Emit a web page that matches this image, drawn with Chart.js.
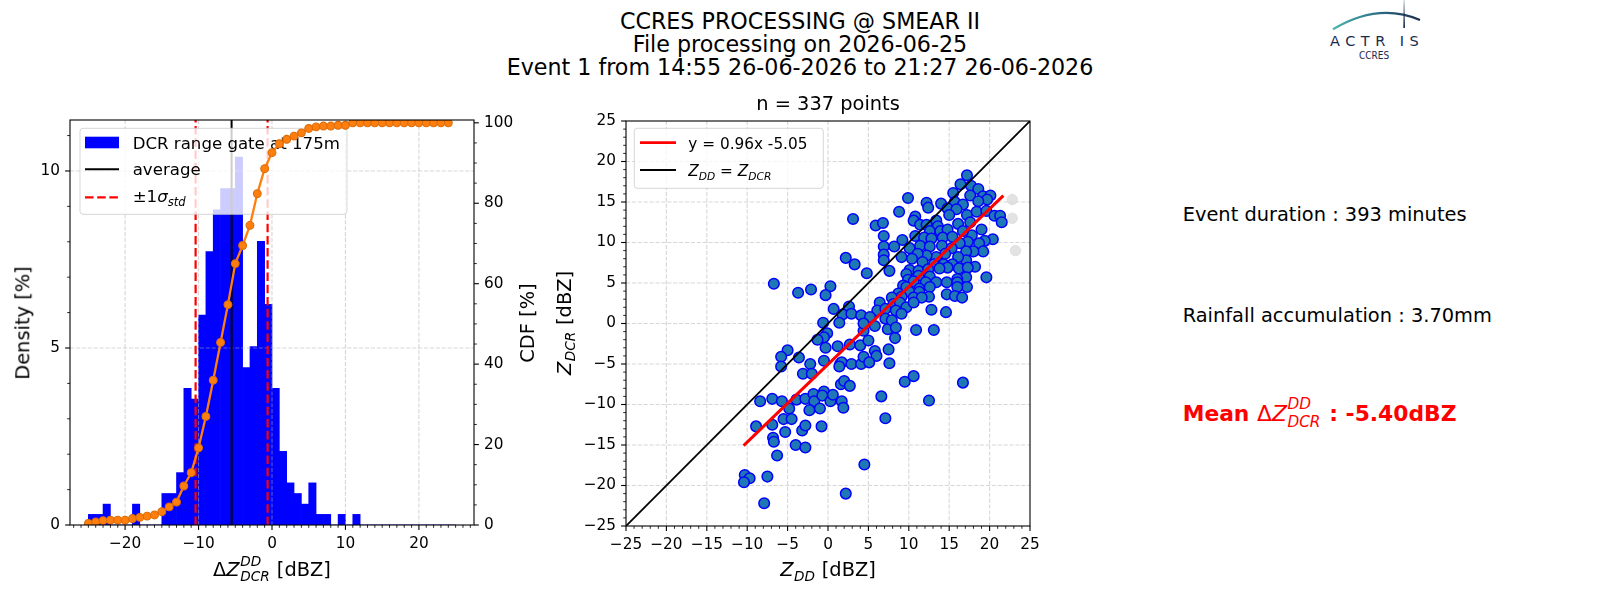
<!DOCTYPE html>
<html><head><meta charset="utf-8"><title>CCRES processing</title>
<script src="https://cdn.jsdelivr.net/npm/chart.js@4.4.1/dist/chart.umd.min.js"></script>
<style>
html,body{margin:0;padding:0;background:#fff;}
#root{position:relative;width:1600px;height:600px;overflow:hidden;font-family:"DejaVu Sans",sans-serif;color:#000;background:#fff;}
#root canvas{position:absolute;}
.t{position:absolute;white-space:nowrap;line-height:1;}
.i{font-style:italic;}
.stk{position:relative;display:inline-block;height:0;}
.stk>span{position:absolute;left:0.04em;font-size:0.7em;font-style:italic;font-weight:normal;line-height:1;white-space:nowrap;}
.stk .up{bottom:0.58em;}
.stk .dn{bottom:-0.57em;}
.stk .dn1{bottom:-0.51em;}
</style></head>
<body><div id="root">
<canvas id="hist" width="560" height="510" style="left:0;top:90px"></canvas>
<canvas id="scat" width="560" height="510" style="left:540px;top:90px"></canvas>
<svg style="position:absolute;left:1320px;top:0" width="110" height="40">
  <defs>
    <linearGradient id="lg" x1="0" x2="1" y1="0" y2="0"><stop offset="0" stop-color="#4bb6ab"/><stop offset="0.5" stop-color="#2b7188"/><stop offset="1" stop-color="#1b2a4e"/></linearGradient>
    <linearGradient id="lv" x1="0" x2="0" y1="0" y2="1"><stop offset="0" stop-color="#1b2a4e" stop-opacity="0.15"/><stop offset="1" stop-color="#1b2a4e"/></linearGradient>
  </defs>
  <path d="M13,29.3 C35,16 65,5 100,20" stroke="url(#lg)" stroke-width="2.2" fill="none"/>
  <rect x="83.3" y="0" width="1.7" height="28" fill="url(#lv)"/>
</svg>
<div class="t" style="left:1330px;top:34px;font-size:14.5px;color:#1b2a4e;letter-spacing:5.5px;">ACTR<span style="margin-left:9px">I</span>S</div>
<div class="t" style="left:1359px;top:51px;font-size:10px;color:#1b2a4e;font-family:'DejaVu Sans Condensed','DejaVu Sans',sans-serif;">CCRES</div>
</div>
<script>
// ---------------- data ----------------
const TITLE_LINES = ["CCRES PROCESSING @ SMEAR II", "File processing on 2026-06-25", "Event 1 from 14:55 26-06-2026 to 21:27 26-06-2026"];
const SCATTER_TITLE = "n = 337 points";
const INFO_LINES = ["Event duration : 393 minutes", "Rainfall accumulation : 3.70mm"];
const MEAN_TEXT = ["Mean ", " : -5.40dBZ"];

// histogram of Delta Z (1 dBZ bins, -25 .. 25)
const BIN_CENTERS = [-24.5,-23.5,-22.5,-21.5,-20.5,-19.5,-18.5,-17.5,-16.5,-15.5,
  -14.5,-13.5,-12.5,-11.5,-10.5,-9.5,-8.5,-7.5,-6.5,-5.5,
  -4.5,-3.5,-2.5,-1.5,-0.5,0.5,1.5,2.5,3.5,4.5,
  5.5,6.5,7.5,8.5,9.5,10.5,11.5,12.5,13.5,14.5,
  15.5,16.5,17.5,18.5,19.5,20.5,21.5,22.5,23.5,24.5];
const DENSITY_PCT = [0.30,0.30,0.59,0,0,0,0.59,0,0,0,
  0.89,0.89,1.48,3.86,3.56,5.93,7.72,8.90,9.50,9.50,
  10.39,4.45,5.04,8.01,6.23,3.86,2.08,1.19,0.89,0.59,
  1.19,0.30,0.30,0,0.30,0,0.30,0,0,0,
  0,0,0,0,0,0,0,0,0,0];
const CDF_X = [-25,-24,-23,-22,-21,-20,-19,-18,-17,-16,
  -15,-14,-13,-12,-11,-10,-9,-8,-7,-6,
  -5,-4,-3,-2,-1,0,1,2,3,4,
  5,6,7,8,9,10,11,12,13,14,
  15,16,17,18,19,20,21,22,23,24];
const CDF_PCT = [0.4,0.75,1.1,1.2,1.2,1.2,1.6,1.9,2.2,2.5,
  3.3,4.5,5.7,9.7,13.0,19.2,27.0,36.0,45.4,54.8,
  65.0,69.5,74.5,82.4,88.6,92.6,94.8,95.9,96.7,97.5,
  98.6,99.0,99.2,99.2,99.4,99.4,100,100,100,100,
  100,100,100,100,100,100,100,100,100,100];
const AVERAGE_DBZ = -5.5;
const SIGMA_LOW_DBZ = -10.4;
const SIGMA_HIGH_DBZ = -0.6;
const HIST_X_RANGE = [-27.5, 27.5];
const DENSITY_RANGE = [0, 11.44];
const CDF_RANGE = [0, 100.7];

// scatter Z_DD vs Z_DCR
const Z_DD = [3.1,2.2,3.3,4.8,-6.7,-3.7,-2.1,0.3,-0.3,0.7,
  2.6,1.8,2.9,4.1,-0.6,1.4,-0.1,4.4,-0.5,-1.3,
  -0.3,1.2,2.7,4.0,-5.0,-5.8,-5.8,-3.6,-2.2,-0.5,
  -3.1,-2.0,1.5,1.7,2.9,4.1,4.4,1.4,1.6,2.0,
  2.7,-8.4,-6.9,-5.7,-4.8,-3.9,-2.8,-1.8,-1.7,-2.3,
  -1.0,-0.5,-0.7,0.3,0.6,1.7,1.9,-5.5,-4.5,-8.9,
  -6.9,-5.3,-3.2,-2.8,-0.8,-6.8,-6.7,-4.0,-2.8,-6.3,
  -10.3,-9.7,-10.4,-7.5,-7.9,2.2,4.5,7.4,10.9,13.1,
  8.3,5.0,5.8,6.0,5.1,7.5,7.6,9.5,10.6,16.7,
  6.6,12.5,7.1,17.2,16.4,17.7,18.6,15.5,9.9,12.2,
  12.4,14.0,15.7,17.6,19.2,20.1,19.7,18.6,16.7,14.8,
  15.9,8.8,10.8,10.6,13.4,15.0,17.2,18.4,19.6,20.6,
  21.3,21.5,5.9,6.8,11.4,12.2,13.6,12.6,13.9,14.8,
  16.1,17.6,19.0,17.8,16.7,6.9,10.8,11.9,12.8,14.2,
  15.4,9.2,20.4,19.4,18.7,17.3,16.3,6.9,8.2,10.1,
  11.4,12.6,14.1,15.3,6.9,19.2,18.0,17.1,17.1,18.2,
  16.1,14.5,13.4,12.2,11.1,9.1,10.4,6.9,11.7,13.1,
  14.3,15.4,14.8,7.6,10.1,11.2,12.4,13.8,16.2,17.3,
  9.7,11.2,12.6,17.1,16.0,19.6,9.9,10.6,12.1,13.4,
  14.7,16.0,17.2,9.3,9.7,11.3,12.6,16.0,8.7,10.1,
  11.3,12.5,14.7,15.7,16.6,9.1,7.9,10.6,11.6,6.4,
  8.1,8.9,9.7,10.6,6.1,7.1,8.4,9.1,12.8,14.6,
  5.2,7.1,7.9,4.4,5.8,8.4];
const Z_DCR = [12.9,8.1,7.3,6.2,4.9,3.8,4.2,4.6,3.5,1.8,
  2.1,1.1,1.2,1.0,0.1,0.1,-1.2,-0.9,-1.7,-2.0,
  -3.0,-2.8,-2.6,-2.7,-3.3,-4.1,-5.3,-4.2,-5.0,-4.6,
  -6.2,-6.2,-5.0,-4.8,-5.0,-5.0,-4.1,-5.3,-7.5,-7.1,
  -7.7,-9.6,-9.3,-9.6,-10.5,-9.4,-9.3,-8.7,-9.6,-10.7,
  -10.5,-8.4,-8.9,-9.6,-8.8,-9.6,-10.4,-11.8,-11.8,-12.7,
  -12.5,-13.4,-13.2,-12.6,-12.7,-14.1,-14.6,-15.0,-15.3,-16.3,
  -18.7,-19.1,-19.6,-18.9,-22.2,-21.0,-17.4,-0.7,-0.8,-0.8,
  -1.8,-2.1,-3.4,-4.0,-4.8,-3.2,-4.9,-7.2,-6.5,-7.3,
  -9.0,-9.5,-11.7,18.3,17.2,17.0,16.6,16.1,15.5,14.9,
  14.3,14.8,15.0,15.8,15.7,15.8,15.3,15.1,14.7,14.2,
  14.1,13.8,13.2,12.7,12.7,13.4,13.4,13.8,13.9,13.3,
  13.3,12.5,12.1,12.4,12.2,12.2,12.0,11.4,11.4,11.6,
  12.3,12.5,11.6,10.9,11.4,10.8,10.8,10.6,10.5,10.6,
  10.7,10.3,10.4,10.2,9.9,10.1,9.9,9.5,9.5,9.3,
  9.6,9.5,9.6,9.3,8.5,8.9,8.9,8.9,7.8,7.0,
  8.2,8.6,8.2,8.4,8.6,8.2,8.0,7.8,7.6,7.3,
  7.3,7.3,6.9,6.5,6.6,6.5,6.7,6.8,6.8,6.9,
  6.1,5.9,5.8,5.7,5.5,5.7,5.4,5.2,5.1,5.1,
  5.1,5.1,4.5,4.7,4.5,4.3,4.5,4.5,3.7,3.9,
  3.9,3.3,3.6,3.4,3.2,3.3,3.2,3.2,3.2,2.6,
  2.4,2.6,2.0,2.6,1.6,1.8,1.6,1.2,1.7,1.4,
  0.8,0.6,0.4,0.0,-0.3,-0.5];
const FADED_DD = [22.8, 22.8, 23.2];
const FADED_DCR = [15.3, 13.0, 9.0];
const FIT_X = [-10.45, 21.7];
const FIT_Y = [-15.08, 15.78];
const ONE_TO_ONE = [-25, 25];
const SCAT_RANGE = [-25, 25];
const FIT_LABEL = "y = 0.96x -5.05";

// ---------------- helpers ----------------
const FONT = '"DejaVu Sans"';
Chart.defaults.font.family = 'DejaVu Sans';
Chart.defaults.color = '#000';
const GRID_COLOR = 'rgba(176,176,176,0.5)';
const minus = v => (v < 0 ? '\u2212' : '') + Math.abs(v);

function gridLines(chart, xs, ys, xVals, yVals) {
  const {ctx, chartArea: a} = chart;
  ctx.save();
  ctx.beginPath(); ctx.rect(a.left, a.top, a.right - a.left, a.bottom - a.top); ctx.clip();
  ctx.strokeStyle = GRID_COLOR; ctx.lineWidth = 1.1; ctx.setLineDash([4.1, 1.8]);
  xVals.forEach(v => { const p = xs.getPixelForValue(v); ctx.beginPath(); ctx.moveTo(p, a.top); ctx.lineTo(p, a.bottom); ctx.stroke(); });
  yVals.forEach(v => { const p = ys.getPixelForValue(v); ctx.beginPath(); ctx.moveTo(a.left, p); ctx.lineTo(a.right, p); ctx.stroke(); });
  ctx.restore();
}
function tickMarks(chart, scale, side, minorStep, majorStep) {
  const {ctx, chartArea: a} = chart;
  ctx.save(); ctx.strokeStyle = '#000';
  const s = Math.ceil(scale.min / minorStep - 1e-9), e = Math.floor(scale.max / minorStep + 1e-9);
  for (let k = s; k <= e; k++) {
    const v = k * minorStep;
    const major = Math.abs(v / majorStep - Math.round(v / majorStep)) < 1e-6;
    const len = major ? 4.9 : 2.8;
    ctx.lineWidth = major ? 1.1 : 0.85;
    const p = scale.getPixelForValue(v);
    ctx.beginPath();
    if (side === 'bottom') { ctx.moveTo(p, a.bottom); ctx.lineTo(p, a.bottom + len); }
    else if (side === 'left') { ctx.moveTo(a.left, p); ctx.lineTo(a.left - len, p); }
    else { ctx.moveTo(a.right, p); ctx.lineTo(a.right + len, p); }
    ctx.stroke();
  }
  ctx.restore();
}
function frame(chart) {
  const {ctx, chartArea: a} = chart;
  ctx.save(); ctx.strokeStyle = '#000'; ctx.lineWidth = 1.1;
  ctx.strokeRect(a.left, a.top, a.right - a.left, a.bottom - a.top); ctx.restore();
}
function legendBox(ctx, x0, y0, x1, y1) {
  ctx.save();
  ctx.beginPath();
  if (ctx.roundRect) ctx.roundRect(x0, y0, x1 - x0, y1 - y0, 3); else ctx.rect(x0, y0, x1 - x0, y1 - y0);
  ctx.fillStyle = 'rgba(255,255,255,0.8)'; ctx.fill();
  ctx.strokeStyle = 'rgba(204,204,204,0.8)'; ctx.lineWidth = 1; ctx.stroke();
  ctx.restore();
}
function rich(ctx, x, y, F, segs, color) {
  ctx.save(); ctx.fillStyle = color || '#000'; ctx.textBaseline = 'alphabetic'; ctx.textAlign = 'left';
  let cx = x;
  for (const s of segs) {
    const size = F * (s.sc || 1);
    ctx.font = (s.it ? 'italic ' : '') + size + 'px ' + FONT;
    ctx.fillText(s.t, cx, y + (s.dy || 0) * F);
    cx += ctx.measureText(s.t).width;
  }
  ctx.restore();
}
function hLine(ctx, x0, x1, y, color, w, dash) {
  ctx.save(); ctx.strokeStyle = color; ctx.lineWidth = w; ctx.setLineDash(dash || []);
  ctx.beginPath(); ctx.moveTo(x0, y); ctx.lineTo(x1, y); ctx.stroke(); ctx.restore();
}

// ---------------- histogram chart ----------------
const histDeco = {
  id: 'histDeco',
  afterDatasetDraw(chart, args) {
    if (args.index === 0) gridLines(chart, chart.scales.x, chart.scales.y, [-20, -10, 0, 10, 20], [5, 10]);
  },
  beforeDatasetDraw(chart, args) {
    if (args.index !== 4) return;
    const ctx = chart.ctx;
    legendBox(ctx, 80, 38.3, 347, 124.3);
    ctx.save(); ctx.fillStyle = '#0000ff'; ctx.fillRect(85, 46.7, 34, 11.6); ctx.restore();
    rich(ctx, 132.7, 59.3, 16.6, [{t: 'DCR range gate at 175m'}]);
    hLine(ctx, 85, 119, 79.3, '#000', 2);
    rich(ctx, 132.7, 85, 16.6, [{t: 'average'}]);
    hLine(ctx, 85, 119, 107.3, '#ff0000', 2.2, [8.5, 3.7]);
    rich(ctx, 132.7, 112, 16.6, [{t: '\u00b11'}, {t: '\u03c3', it: 1}, {t: 'std', it: 1, sc: 0.7, dy: 0.25}]);
  },
  afterDraw(chart) {
    frame(chart);
    tickMarks(chart, chart.scales.x, 'bottom', 1, 10);
    tickMarks(chart, chart.scales.y, 'left', 1, 5);
    tickMarks(chart, chart.scales.y2, 'right', 5, 20);
  }
};
const tickFont = {family: 'DejaVu Sans', size: 15.3};
new Chart(document.getElementById('hist'), {
  type: 'bar',
  data: {
    datasets: [
      {type: 'bar', data: BIN_CENTERS.map((x, i) => ({x, y: DENSITY_PCT[i]})), backgroundColor: '#0000ff',
       borderWidth: 0, barPercentage: 1, categoryPercentage: 1, xAxisID: 'x', yAxisID: 'y', order: 10},
      {type: 'line', data: [{x: AVERAGE_DBZ, y: DENSITY_RANGE[0]}, {x: AVERAGE_DBZ, y: DENSITY_RANGE[1]}], borderColor: '#000',
       borderWidth: 2, pointRadius: 0, xAxisID: 'x', yAxisID: 'y', order: 6},
      {type: 'line', data: [{x: SIGMA_LOW_DBZ, y: DENSITY_RANGE[0]}, {x: SIGMA_LOW_DBZ, y: DENSITY_RANGE[1]}], borderColor: '#ff0000',
       borderWidth: 2.2, borderDash: [8.5, 3.7], pointRadius: 0, xAxisID: 'x', yAxisID: 'y', order: 5},
      {type: 'line', data: [{x: SIGMA_HIGH_DBZ, y: DENSITY_RANGE[0]}, {x: SIGMA_HIGH_DBZ, y: DENSITY_RANGE[1]}], borderColor: '#ff0000',
       borderWidth: 2.2, borderDash: [8.5, 3.7], pointRadius: 0, xAxisID: 'x', yAxisID: 'y', order: 4},
      {type: 'line', data: CDF_X.map((x, i) => ({x, y: CDF_PCT[i]})), borderColor: '#ff7f0e', borderWidth: 2.3,
       pointRadius: 3.9, pointBackgroundColor: '#ff7f0e', pointBorderColor: '#dc6c0a', pointBorderWidth: 1.1,
       tension: 0, xAxisID: 'x', yAxisID: 'y2', order: 1}
    ]
  },
  options: {
    responsive: false, maintainAspectRatio: false, devicePixelRatio: 1, animation: false, events: [],
    layout: {padding: {top: 30, left: 0, right: 0, bottom: 0}},
    plugins: {legend: {display: false}, tooltip: {enabled: false}, title: {display: false}},
    scales: {
      x: {type: 'linear', position: 'bottom', min: HIST_X_RANGE[0], max: HIST_X_RANGE[1], offset: false,
          grid: {display: false, drawTicks: false}, border: {display: false},
          ticks: {stepSize: 10, includeBounds: false, autoSkip: false, maxRotation: 0, padding: 10, font: tickFont, callback: minus},
          afterFit: s => { s.height = 75; }},
      y: {type: 'linear', position: 'left', min: DENSITY_RANGE[0], max: DENSITY_RANGE[1],
          grid: {display: false, drawTicks: false}, border: {display: false},
          ticks: {stepSize: 5, includeBounds: false, padding: 10, font: tickFont},
          afterFit: s => { s.width = 70; }},
      y2: {type: 'linear', position: 'right', min: CDF_RANGE[0], max: CDF_RANGE[1],
          grid: {display: false, drawTicks: false}, border: {display: false},
          ticks: {stepSize: 20, includeBounds: false, padding: 10, font: tickFont},
          afterFit: s => { s.width = 86; }}
    }
  },
  plugins: [histDeco]
});

// ---------------- scatter chart ----------------
const scatDeco = {
  id: 'scatDeco',
  beforeDatasetsDraw(chart) {
    gridLines(chart, chart.scales.x, chart.scales.y, [-20, -15, -10, -5, 0, 5, 10, 15, 20], [-20, -15, -10, -5, 0, 5, 10, 15, 20]);
  },
  afterDatasetsDraw(chart) {
    const ctx = chart.ctx;
    legendBox(ctx, 94.3, 38.3, 283.3, 98.3);
    hLine(ctx, 100, 136, 52.7, '#ff0000', 2.8);
    rich(ctx, 148.3, 59.3, 15.3, [{t: FIT_LABEL}]);
    hLine(ctx, 100, 136, 80, '#000', 1.8);
    rich(ctx, 148.3, 86, 15.3, [{t: 'Z', it: 1}, {t: 'DD', it: 1, sc: 0.7, dy: 0.26}, {t: ' = '}, {t: 'Z', it: 1}, {t: 'DCR', it: 1, sc: 0.7, dy: 0.26}]);
  },
  afterDraw(chart) {
    frame(chart);
    tickMarks(chart, chart.scales.x, 'bottom', 1, 5);
    tickMarks(chart, chart.scales.y, 'left', 1, 5);
  }
};
new Chart(document.getElementById('scat'), {
  type: 'scatter',
  data: {
    datasets: [
      {type: 'scatter', data: FADED_DD.map((x, i) => ({x, y: FADED_DCR[i]})), backgroundColor: 'rgba(215,215,215,0.7)',
       borderColor: 'rgba(215,215,215,0.7)', borderWidth: 1, pointRadius: 5.2, order: 6},
      {type: 'scatter', data: Z_DD.map((x, i) => ({x, y: Z_DCR[i]})), backgroundColor: '#1f77b4',
       borderColor: '#0000ff', borderWidth: 1.5, pointRadius: 5.3, order: 5},
      {type: 'line', data: [{x: ONE_TO_ONE[0], y: ONE_TO_ONE[0]}, {x: ONE_TO_ONE[1], y: ONE_TO_ONE[1]}], borderColor: '#000',
       borderWidth: 1.8, pointRadius: 0, order: 2},
      {type: 'line', data: FIT_X.map((x, i) => ({x, y: FIT_Y[i]})), borderColor: '#ff0000',
       borderWidth: 3, pointRadius: 0, order: 1}
    ]
  },
  options: {
    responsive: false, maintainAspectRatio: false, devicePixelRatio: 1, animation: false, events: [],
    layout: {padding: {top: 31, left: 0, right: 70, bottom: 0}},
    plugins: {legend: {display: false}, tooltip: {enabled: false}, title: {display: false}},
    scales: {
      x: {type: 'linear', position: 'bottom', min: SCAT_RANGE[0], max: SCAT_RANGE[1],
          grid: {display: false, drawTicks: false}, border: {display: false},
          ticks: {stepSize: 5, includeBounds: false, autoSkip: false, maxRotation: 0, padding: 10, font: tickFont, callback: minus},
          afterFit: s => { s.height = 74; }},
      y: {type: 'linear', position: 'left', min: SCAT_RANGE[0], max: SCAT_RANGE[1],
          grid: {display: false, drawTicks: false}, border: {display: false},
          ticks: {stepSize: 5, includeBounds: false, autoSkip: false, padding: 10, font: tickFont, callback: minus},
          afterFit: s => { s.width = 86; }}
    }
  },
  plugins: [scatDeco]
});

// ---------------- text ----------------
const root = document.getElementById('root');
function txt(html, x, base, F, opt) {
  opt = opt || {};
  const d = document.createElement('div'); d.className = 't'; d.innerHTML = html;
  d.style.fontSize = F + 'px'; d.style.left = x + 'px'; d.style.top = (base - 0.846 * F) + 'px';
  if (opt.center) d.style.transform = 'translateX(-50%)';
  if (opt.color) d.style.color = opt.color;
  root.appendChild(d); return d;
}
function rot(html, cx, cy, F) {
  const d = document.createElement('div'); d.className = 't'; d.innerHTML = html;
  d.style.fontSize = F + 'px'; d.style.left = cx + 'px'; d.style.top = cy + 'px';
  d.style.transform = 'translate(-50%,-50%) rotate(-90deg)';
  root.appendChild(d); return d;
}
const DZ = 'Δ<span class="i">Z</span><span class="stk" style="width:1.6em"><span class="up">DD</span><span class="dn">DCR</span></span>';
const ZDD = '<span class="i">Z</span><span class="stk" style="width:1.14em"><span class="dn1">DD</span></span>';
const ZDCR = '<span class="i">Z</span><span class="stk" style="width:1.58em"><span class="dn1">DCR</span></span>';

txt(TITLE_LINES[0], 800, 28.6, 22.2, {center: true});
txt(TITLE_LINES[1], 800, 52.1, 22.2, {center: true});
txt(TITLE_LINES[2], 800, 74.6, 22.2, {center: true});
txt(SCATTER_TITLE, 828, 110.7, 19.4, {center: true});
txt(DZ + ' [dBZ]', 272, 576.7, 19.4, {center: true});
txt(ZDD + ' [dBZ]', 828, 576.7, 19.4, {center: true});
rot('Density [%]', 23, 322.5, 19.4);
rot('CDF [%]', 528, 322.5, 19.4);
rot(ZDCR + ' [dBZ]', 565, 322.5, 19.4);
txt(INFO_LINES[0], 1182.7, 221.7, 19.4);
txt(INFO_LINES[1], 1182.7, 322.7, 19.4);
txt('<b>' + MEAN_TEXT[0] + '</b>' + DZ + '<b>' + MEAN_TEXT[1] + '</b>', 1182.7, 421.7, 21.8, {color: '#ff0000'});
</script>
</body></html>
